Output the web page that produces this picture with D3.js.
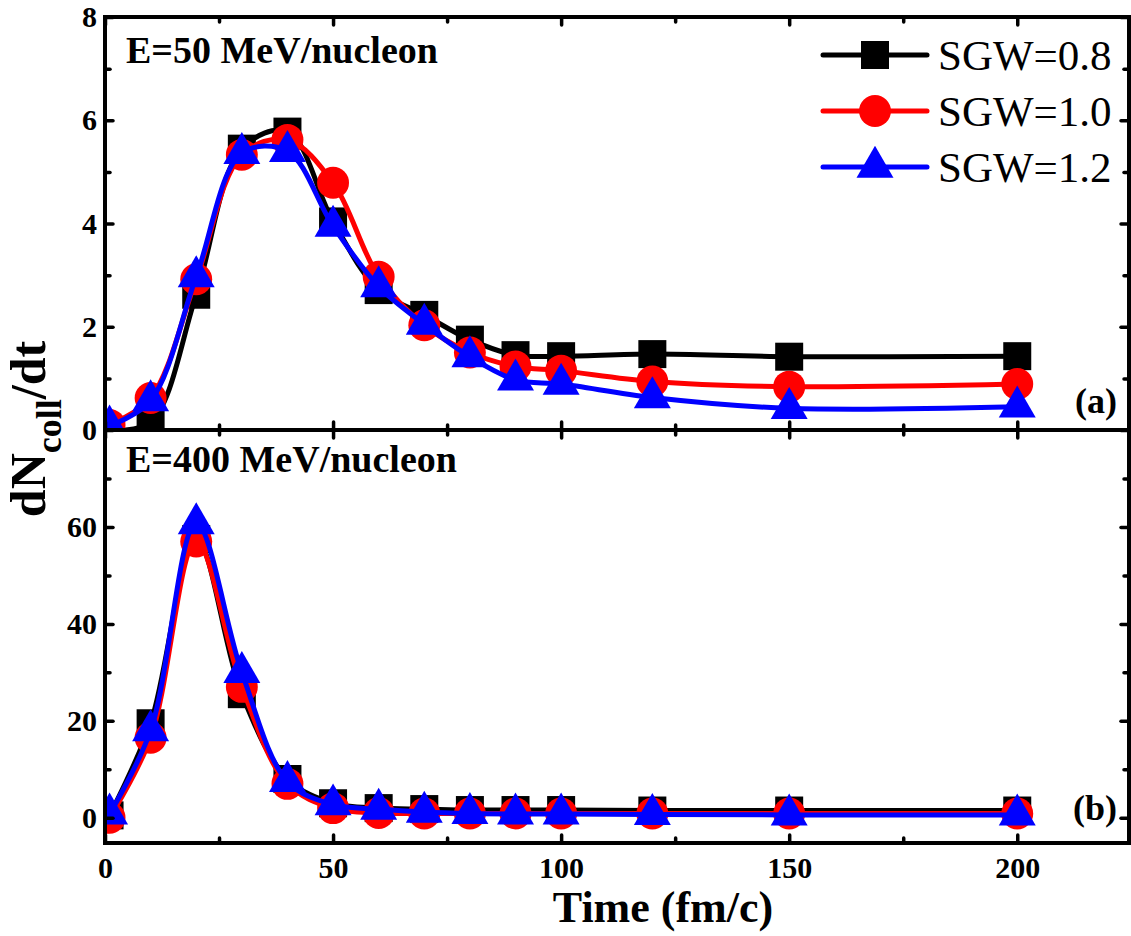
<!DOCTYPE html>
<html>
<head>
<meta charset="utf-8">
<script src="https://cdn.jsdelivr.net/npm/d3@7"></script>
<style>
  body { margin: 0; background: #fff; }
  svg { display: block; font-family: "Liberation Serif", serif; }
</style>
</head>
<body>
<svg width="1131" height="936"></svg>
<script>
const times = [1, 10, 20, 30, 40, 50, 60, 70, 80, 90, 100, 120, 150, 200];
const seriesNames = ["SGW=0.8", "SGW=1.0", "SGW=1.2"];
const colors = ["#000000", "#ff0000", "#0000ff"];
const symbols = [d3.symbolSquare, d3.symbolCircle, d3.symbolTriangle];
const symbolSizes = [784, 800, 591];

// E = 50 MeV/nucleon
const e50Sgw08 = [0.0, 0.15, 2.62, 5.45, 5.78, 4.04, 2.71, 2.23, 1.75, 1.45, 1.43, 1.47, 1.42, 1.43];
const e50Sgw10 = [0.1, 0.62, 2.92, 5.33, 5.62, 4.79, 2.97, 2.03, 1.5, 1.23, 1.15, 0.94, 0.84, 0.89];
const e50Sgw12 = [0.08, 0.57, 2.97, 5.36, 5.4, 3.95, 2.78, 2.05, 1.42, 0.97, 0.89, 0.63, 0.42, 0.45];

// E = 400 MeV/nucleon
const e400Sgw08 = [0.5, 19.5, 57.5, 25.5, 8.0, 3.0, 2.0, 1.8, 1.6, 1.6, 1.6, 1.5, 1.5, 1.5];
const e400Sgw10 = [0.0, 16.5, 57.0, 27.0, 7.0, 2.0, 1.0, 0.9, 0.9, 0.9, 0.9, 0.9, 0.9, 0.9];
const e400Sgw12 = [0.8, 18.0, 60.7, 30.0, 7.5, 2.7, 1.8, 1.2, 0.9, 0.8, 0.8, 0.7, 0.6, 0.6];

const xMajor = [0, 50, 100, 150, 200];
const xMinor = [25, 75, 125, 175];
const yMajorA = [0, 2, 4, 6, 8];
const yMinorA = [1, 3, 5, 7];
const yMajorB = [0, 20, 40, 60];
const yMinorB = [10, 30, 50, 70];

const serif = "\"Liberation Serif\", \"Times New Roman\", serif";
const left = 105, right = 1129;
const svg = d3.select("svg");

const x = d3.scaleLinear().domain([0, 224.5]).range([left, right]);

const panels = [
  { key: "a", top: 17, bottom: 430, domain: [0, 8], major: yMajorA, minor: yMinorA,
    series: [e50Sgw08, e50Sgw10, e50Sgw12], title: "E=50 MeV/nucleon", titleY: 63, tagY: 413, showX: false },
  { key: "b", top: 430, bottom: 843, domain: [-5.2, 80], major: yMajorB, minor: yMinorB,
    series: [e400Sgw08, e400Sgw10, e400Sgw12], title: "E=400 MeV/nucleon", titleY: 472, tagY: 820, showX: true }
];

function styleAxis(g) {
  g.select(".domain").remove();
  g.selectAll(".tick line")
    .attr("stroke", "#000")
    .attr("stroke-width", 3.5)
    .attr("stroke-linecap", "round");
  g.selectAll("text")
    .style("font-family", serif)
    .style("font-size", "30px")
    .style("font-weight", "bold")
    .attr("fill", "#000");
}

panels.forEach(p => {
  const y = d3.scaleLinear().domain(p.domain).range([p.bottom, p.top]);
  const g = svg.append("g");

  svg.append("clipPath").attr("id", "clip-" + p.key)
    .append("rect")
    .attr("x", left).attr("y", p.top)
    .attr("width", right - left).attr("height", p.bottom - p.top);

  const plotArea = g.append("g").attr("clip-path", `url(#clip-${p.key})`);

  const line = d3.line()
    .x(d => x(d.t))
    .y(d => y(d.v))
    .curve(d3.curveCatmullRom.alpha(0.5));

  p.series.forEach((vals, i) => {
    const pts = times.map((t, j) => ({ t: t, v: vals[j] }));
    plotArea.append("path")
      .datum(pts)
      .attr("fill", "none")
      .attr("stroke", colors[i])
      .attr("stroke-width", 5)
      .attr("d", line);
    plotArea.selectAll(".pt-" + i)
      .data(pts)
      .join("path")
      .attr("class", "pt-" + i)
      .attr("transform", d => `translate(${x(d.t)},${y(d.v)})`)
      .attr("d", d3.symbol().type(symbols[i]).size(symbolSizes[i]))
      .attr("fill", colors[i]);
  });

  // axes, ticks pointing inward
  g.append("g").attr("transform", `translate(${left},0)`)
    .call(d3.axisLeft(y).tickValues(p.major).tickSize(-8).tickPadding(8).tickFormat(d3.format("d")))
    .call(styleAxis);
  g.append("g").attr("transform", `translate(${left},0)`)
    .call(d3.axisLeft(y).tickValues(p.minor).tickSize(-5).tickFormat(""))
    .call(styleAxis);
  g.append("g").attr("transform", `translate(${right},0)`)
    .call(d3.axisRight(y).tickValues(p.major).tickSize(-8).tickFormat(""))
    .call(styleAxis);
  g.append("g").attr("transform", `translate(${right},0)`)
    .call(d3.axisRight(y).tickValues(p.minor).tickSize(-5).tickFormat(""))
    .call(styleAxis);
  g.append("g").attr("transform", `translate(0,${p.top})`)
    .call(d3.axisTop(x).tickValues(xMajor).tickSize(-8).tickFormat(""))
    .call(styleAxis);
  g.append("g").attr("transform", `translate(0,${p.top})`)
    .call(d3.axisTop(x).tickValues(xMinor).tickSize(-5).tickFormat(""))
    .call(styleAxis);
  g.append("g").attr("transform", `translate(0,${p.bottom})`)
    .call(d3.axisBottom(x).tickValues(xMajor).tickSize(-8).tickPadding(14)
      .tickFormat(p.showX ? d3.format("d") : ""))
    .call(styleAxis);
  g.append("g").attr("transform", `translate(0,${p.bottom})`)
    .call(d3.axisBottom(x).tickValues(xMinor).tickSize(-5).tickFormat(""))
    .call(styleAxis);

  g.append("rect")
    .attr("x", left).attr("y", p.top)
    .attr("width", right - left).attr("height", p.bottom - p.top)
    .attr("fill", "none")
    .attr("stroke", "#000")
    .attr("stroke-width", 4);

  g.append("text")
    .attr("x", 126).attr("y", p.titleY)
    .style("font-size", "38px").style("font-weight", "bold")
    .text(p.title);

  g.append("text")
    .attr("x", 1117).attr("y", p.tagY)
    .attr("text-anchor", "end")
    .style("font-size", "36px").style("font-weight", "bold")
    .text(`(${p.key})`);
});

// Legend
const legend = svg.append("g");
seriesNames.forEach((name, i) => {
  const cy = 55 + i * 56;
  legend.append("line")
    .attr("x1", 823).attr("x2", 927).attr("y1", cy).attr("y2", cy)
    .attr("stroke", colors[i]).attr("stroke-width", 5).attr("stroke-linecap", "round");
  legend.append("path")
    .attr("transform", `translate(875,${cy})`)
    .attr("d", d3.symbol().type(symbols[i]).size(symbolSizes[i]))
    .attr("fill", colors[i]);
  legend.append("text")
    .attr("x", 938).attr("y", cy + 15)
    .style("font-size", "43px")
    .text(name);
});

// Axis titles
svg.append("text")
  .attr("x", 663).attr("y", 922)
  .attr("text-anchor", "middle")
  .style("font-size", "44px").style("font-weight", "bold")
  .text("Time (fm/c)");

const yTitle = svg.append("text")
  .attr("transform", "translate(45,429) rotate(-90)")
  .attr("text-anchor", "middle")
  .style("font-size", "50px").style("font-weight", "bold");
yTitle.append("tspan").text("dN");
yTitle.append("tspan").attr("dy", 16).style("font-size", "36px").text("coll");
yTitle.append("tspan").attr("dy", -16).text("/dt");
</script>
</body>
</html>
